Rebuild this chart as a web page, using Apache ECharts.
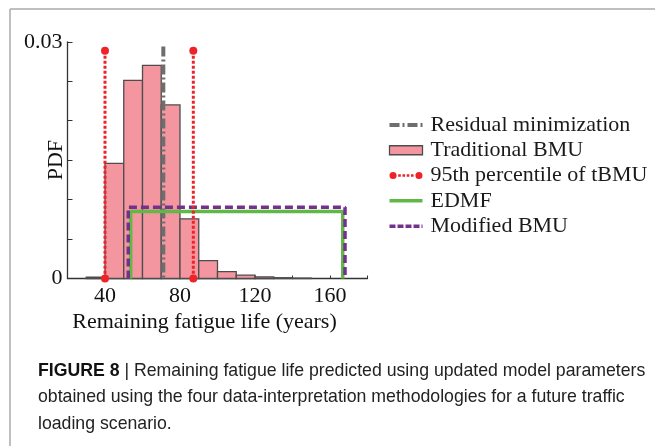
<!DOCTYPE html>
<html>
<head>
<meta charset="utf-8">
<script src="https://cdn.jsdelivr.net/npm/echarts@6/dist/echarts.min.js"></script>
<style>
  html, body { margin: 0; padding: 0; background: #fff; }
  #chart { width: 655px; height: 446px; }
</style>
</head>
<body>
<div id="chart"></div>
<script>
// ── Data ──
const binStart = [30, 40, 50, 60, 70, 80, 90, 100, 110, 120, 130, 140];
const binEnd   = [40, 50, 60, 70, 80, 90, 100, 110, 120, 130, 140, 150];
const binPdf   = [0.00017, 0.0146, 0.0251, 0.0270, 0.0220, 0.00756, 0.00226, 0.00086, 0.00044, 0.0002, 0.0001, 0.00005];

const residualX   = 71.1;      // residual minimization
const residualTop = 0.0294;
const pctX   = [40, 87.1];      // 95th percentile bounds of tBMU
const pctTop = 0.02886;
const edmfX   = [53.7, 166.8];
const edmfPdf = 0.00848;
const mbmuX   = [52.4, 168.0];
const mbmuPdf = 0.00904;

const xTickLabels = [40, 80, 120, 160];
const yTickLabels = [0, 0.03];

const captionLines = [
  '{b|FIGURE 8} | Remaining fatigue life predicted using updated model parameters',
  'obtained using the four data-interpretation methodologies for a future traffic',
  'loading scenario.'
];

// ── Styles ──
const SERIF = 'Liberation Serif';
const PINK = '#F4969F', BAR_EDGE = '#4d4d4d';
const RED = '#EE2229', GRAY = '#6E6E6E', GREEN = '#62B847', PURPLE = '#73318C';
const DASHDOT = [10, 3, 2, 3], DOTTED = [3, 2], DASHED = [8, 4];

const chart = echarts.init(document.getElementById('chart'), null, { renderer: 'canvas' });

const option = {
  animation: false,
  backgroundColor: '#fff',
  grid: { left: 67.5, top: 41.8, width: 300, height: 236.7, containLabel: false },
  xAxis: {
    type: 'value', min: 20, max: 180, interval: 20,
    name: 'Remaining fatigue life (years)', nameLocation: 'middle', nameGap: 33,
    nameMoveOverlap: false,
    nameTextStyle: { fontFamily: SERIF, fontSize: 22, color: '#111', padding: [0, 26, 0, 0] },
    axisLine: { lineStyle: { color: '#333', width: 1.3 } },
    axisTick: { inside: true, length: 3, lineStyle: { color: '#333', width: 1 } },
    axisLabel: {
      fontFamily: SERIF, fontSize: 22, color: '#111', margin: 7,
      formatter: v => xTickLabels.includes(v) ? String(v) : ''
    },
    splitLine: { show: false }
  },
  yAxis: {
    type: 'value', min: 0, max: 0.03, interval: 0.005,
    name: 'PDF', nameLocation: 'middle', nameGap: 0,
    nameMoveOverlap: false,
    nameTextStyle: { fontFamily: SERIF, fontSize: 22, color: '#111' },
    axisLine: { show: true, lineStyle: { color: '#333', width: 1.3 } },
    axisTick: { show: true, inside: true, length: 5, lineStyle: { color: '#333', width: 1 } },
    axisLabel: {
      fontFamily: SERIF, fontSize: 22, color: '#111', margin: 5,
      formatter: v => yTickLabels.some(t => Math.abs(t - v) < 1e-9) ? String(+v.toFixed(3)) : ''
    },
    splitLine: { show: false }
  },
  legend: {
    orient: 'vertical', left: 387.5, top: 112.3, padding: 0,
    itemWidth: 33, itemHeight: 9, itemGap: 0,
    textStyle: { fontFamily: SERIF, fontSize: 22, color: '#1a1a1a', lineHeight: 25.3, padding: [0, 0, 0, 3] },
    data: [
      { name: 'Residual minimization', itemStyle: { opacity: 0 }, lineStyle: { color: GRAY, width: 4, type: DASHDOT } },
      { name: 'Traditional BMU', icon: 'rect', itemStyle: { color: PINK, borderColor: BAR_EDGE, borderWidth: 1.3 } },
      { name: '95th percentile of tBMU',
        icon: 'path://M0,3.5A3.5,3.5 0 1,0 7,3.5A3.5,3.5 0 1,0 0,3.5Z M8.6,2.2h2.6v2.6h-2.6Z M12.8,2.2h2.6v2.6h-2.6Z M17,2.2h2.6v2.6h-2.6Z M21.2,2.2h2.6v2.6h-2.6Z M25.6,3.5A3.5,3.5 0 1,0 32.6,3.5A3.5,3.5 0 1,0 25.6,3.5Z',
        itemStyle: { color: RED, borderWidth: 0 } },
      { name: 'EDMF', itemStyle: { opacity: 0 }, lineStyle: { color: GREEN, width: 3.5, type: 'solid' } },
      { name: 'Modified BMU', itemStyle: { opacity: 0 }, lineStyle: { color: PURPLE, width: 3.5, type: [6, 2] } }
    ]
  },
  series: [
    {
      name: 'Traditional BMU', type: 'custom',
      data: binStart.map((s, i) => [s, binEnd[i], binPdf[i]]),
      encode: { x: [0, 1], y: 2 },
      itemStyle: { color: PINK },
      renderItem: (params, api) => {
        const p0 = api.coord([api.value(0), api.value(2)]);
        const p1 = api.coord([api.value(1), 0]);
        return {
          type: 'rect',
          shape: { x: p0[0], y: p0[1], width: p1[0] - p0[0], height: p1[1] - p0[1] },
          style: { fill: PINK, stroke: BAR_EDGE, lineWidth: 1.3 }
        };
      },
      z: 1
    },
    {
      name: 'Residual minimization', type: 'line', symbol: 'none',
      data: [[residualX, residualTop], [residualX, 0]],
      lineStyle: { color: GRAY, width: 4, type: DASHDOT }, itemStyle: { color: GRAY },
      z: 3
    },
    ...pctX.map(x => ({
      name: '95th percentile of tBMU', type: 'line', symbol: 'circle', symbolSize: 8, showSymbol: true, clip: false,
      data: [[x, pctTop], [x, 0]],
      lineStyle: { color: RED, width: 3, type: DOTTED }, itemStyle: { color: RED },
      z: 5
    })),
    {
      name: 'EDMF', type: 'line', symbol: 'none',
      data: [[edmfX[0], 0], [edmfX[0], edmfPdf], [edmfX[1], edmfPdf], [edmfX[1], 0]],
      lineStyle: { color: GREEN, width: 3.5 }, itemStyle: { color: GREEN },
      z: 3
    },
    {
      name: 'Modified BMU', type: 'line', symbol: 'none',
      data: [[mbmuX[0], 0], [mbmuX[0], mbmuPdf], [mbmuX[1], mbmuPdf], [mbmuX[1], 0]],
      lineStyle: { color: PURPLE, width: 3.5, type: DASHED }, itemStyle: { color: PURPLE },
      z: 4
    }
  ],
  graphic: [
    // figure frame (top and left edges only)
    { type: 'line', shape: { x1: 10, y1: 9, x2: 655, y2: 9 }, style: { stroke: '#aaa', lineWidth: 1.5 } },
    { type: 'line', shape: { x1: 10, y1: 9, x2: 10, y2: 446 }, style: { stroke: '#aaa', lineWidth: 1.5 } },
    ...captionLines.map((t, i) => ({
      type: 'text', left: 38, top: 362 + i * 26.5,
      style: {
        text: t, fill: '#222', fontFamily: 'Liberation Sans', fontSize: 17.7,
        rich: { b: { fontWeight: 'bold', fontFamily: 'Liberation Sans', fontSize: 17.7, fill: '#111' } }
      }
    }))
  ]
};

chart.setOption(option);
</script>
</body>
</html>
